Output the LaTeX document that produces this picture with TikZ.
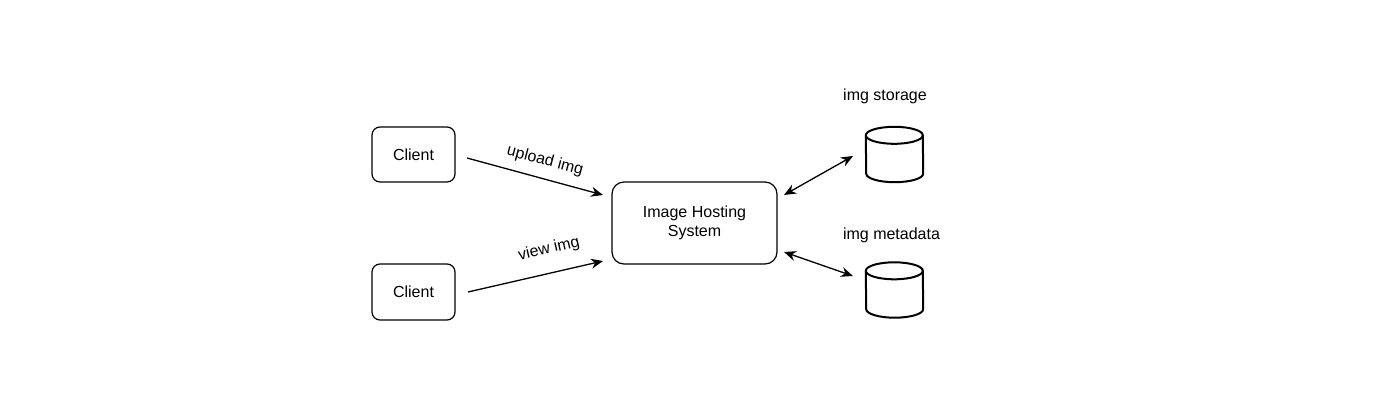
\documentclass[tikz,border=0pt]{standalone}
\usepackage{fontspec}
\setmainfont{Liberation Sans}
\usetikzlibrary{arrows.meta,calc}
\begin{document}
\begin{tikzpicture}[x=1pt,y=-1pt,
  box/.style={draw=black, line width=1.2pt, rounded corners=8pt, font=\fontsize{16}{19}\selectfont, align=center, inner sep=0pt},
  lbl/.style={font=\fontsize{16}{19}\selectfont, inner sep=0pt},
  conn/.style={line width=1.3pt, -{Stealth[length=12pt,width=10pt]}},
  biconn/.style={line width=1.3pt, {Stealth[length=12pt,width=10pt]}-{Stealth[length=12pt,width=10pt]}},
  cylbox/.style={minimum width=57pt, minimum height=55pt, inner sep=0pt}
]
\useasboundingbox[fill=white] (0,0) rectangle (1400,417);

\node[box, minimum width=83pt, minimum height=55pt] (c1) at (413.5,154.5) {Client};
\node[box, minimum width=83pt, minimum height=56pt] (c2) at (413.5,292) {Client};
\node[box, rounded corners=12pt, minimum width=165pt, minimum height=82pt] (hs) at (694.5,223) {Image Hosting\\System};

\node[cylbox] (db1) at (894.5,154.5) {};
\node[cylbox] (db2) at (894.5,290) {};

\foreach \n in {db1,db2}{
  \draw[line width=2pt]
    ($(\n.north west)+(0,8.5)$) arc[start angle=180, end angle=0, x radius=28.5pt, y radius=8.5pt]
    -- ($(\n.south east)+(0,-8.5)$) arc[start angle=0, end angle=-180, x radius=28.5pt, y radius=8.5pt]
    -- cycle;
  \draw[line width=2pt] ($(\n.north west)+(0,8.5)$) arc[start angle=180, end angle=360, x radius=28.5pt, y radius=8.5pt];
}

\node[lbl] (l1) at (885,96) {img storage};
\node[lbl] (l2) at (891.5,235) {img metadata};

\coordinate (u1) at (467,158);
\coordinate (u2) at (603,195);
\coordinate (v1) at (468,292);
\coordinate (v2) at (603,261);
\coordinate (s1) at (784,195);
\coordinate (s2) at (853,156);
\coordinate (m1) at (784,252);
\coordinate (m2) at (853,276);

\draw[conn] (u1) -- (u2);
\draw[conn] (v1) -- (v2);
\draw[biconn] (s1) -- (s2);
\draw[biconn] (m1) -- (m2);

\node[lbl, rotate=-15] (ul) at (545,161) {upload img};
\node[lbl, rotate=13] (vl) at (549,249) {view img};
\end{tikzpicture}
\end{document}
